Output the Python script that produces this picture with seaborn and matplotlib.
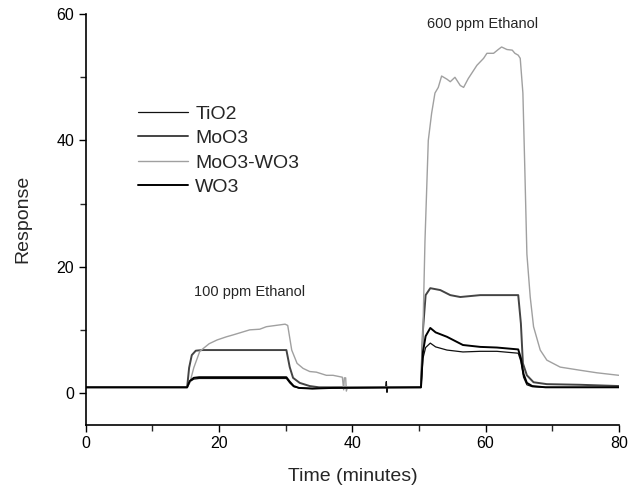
import numpy as np
import pandas as pd
import matplotlib
matplotlib.use("Agg")
import matplotlib.pyplot as plt
from matplotlib.ticker import MultipleLocator
import seaborn as sns

# --- data (time in minutes, response) ---
tio2_t = [0, 15.2, 15.6, 16.2, 17, 20, 25, 30.1, 30.6, 31.2, 32, 34, 37, 45.0, 45.1, 45.2, 45.3,
          50.3, 50.6, 51.0, 51.7, 52.5, 54.2, 56.6, 59.2, 61.7, 64.9, 65.3, 65.7, 66.2, 67, 69, 74, 80]
tio2_v = [0.9, 0.9, 1.8, 2.2, 2.3, 2.3, 2.3, 2.3, 1.6, 1.0, 0.8, 0.7, 0.8, 0.9, 1.8, 0.1, 0.9,
          0.9, 5.5, 7.2, 7.9, 7.3, 6.8, 6.5, 6.6, 6.6, 6.3, 5.0, 2.5, 1.3, 1.0, 0.9, 0.9, 0.9]

moo3_t = [0, 15.2, 15.5, 15.9, 16.5, 17.5, 30.1, 30.6, 31.1, 32.1, 33.6, 35, 50.3, 50.6, 51.0,
          51.7, 53.2, 54.7, 56.2, 59.2, 64.9, 65.3, 65.6, 66.2, 67.2, 69.2, 74.2, 80]
moo3_v = [0.9, 0.9, 4.0, 6.0, 6.7, 6.8, 6.8, 4.1, 2.4, 1.6, 1.1, 0.9, 0.9, 10, 15.5,
          16.6, 16.3, 15.5, 15.2, 15.5, 15.5, 11, 4.7, 2.8, 1.7, 1.4, 1.3, 1.1]

mix_t = [0, 15.2, 15.6, 16.2, 17.1, 18.5, 19.7, 21.1, 22.1, 24.6, 26.1, 27.1, 29.9, 30.3, 30.9,
         31.7, 32.6, 33.6, 34.6, 36.1, 37.1, 38.5, 38.7, 38.8, 39.0, 39.1, 39.3, 50.3, 50.6,
         50.9, 51.4, 51.9, 52.4, 52.9, 53.4, 54.2, 54.7, 55.4, 56.2, 56.7, 57.4, 58.7, 59.7,
         60.2, 61.2, 61.9, 62.4, 63.2, 64.0, 64.4, 64.9, 65.2, 65.6, 65.9, 66.2, 66.7, 67.2,
         68.2, 69.2, 71.2, 74.2, 76.7, 80]
mix_v = [0.9, 0.9, 1.6, 4.0, 6.6, 7.8, 8.4, 8.9, 9.2, 10.0, 10.1, 10.5, 10.9, 10.7, 6.8,
         4.7, 3.9, 3.4, 3.3, 2.8, 2.8, 2.5, 0.5, 2.4, 2.4, 0.3, 1.0, 0.9, 10,
         24, 40, 44.3, 47.5, 48.4, 50.2, 49.7, 49.3, 50.0, 48.7, 48.4, 49.8, 51.9, 53.0,
         53.8, 53.8, 54.4, 54.8, 54.4, 54.3, 53.8, 53.5, 53.0, 47.5, 35, 22, 15.2, 10.5,
         6.8, 5.2, 4.1, 3.6, 3.2, 2.8]

wo3_t = [0, 15.2, 15.6, 16.2, 17, 20, 25, 30.1, 30.6, 31.2, 32, 34, 37, 50.3, 50.6, 51.0,
         51.7, 52.5, 54.2, 56.6, 59.2, 61.7, 64.9, 65.3, 65.7, 66.2, 67, 69, 80]
wo3_v = [0.9, 0.9, 1.9, 2.4, 2.5, 2.5, 2.5, 2.5, 1.8, 1.1, 0.8, 0.7, 0.8, 0.9, 6.5, 9.0,
         10.3, 9.6, 8.9, 7.6, 7.3, 7.2, 6.9, 5.5, 3.0, 1.6, 1.1, 0.9, 0.9]

labels = ["TiO2", "MoO3", "MoO3-WO3", "WO3"]
colors = ["#111111", "#444444", "#a0a0a0", "#000000"]
widths = [0.9, 1.4, 1.0, 1.4]
series = [(tio2_t, tio2_v), (moo3_t, moo3_v), (mix_t, mix_v), (wo3_t, wo3_v)]

sns.set_style("ticks")
plt.rcParams["font.family"] = ["Liberation Sans", "DejaVu Sans"]

fig = plt.figure(figsize=(6.36, 4.88), dpi=100)
ax = fig.add_axes([0.135, 0.130, 0.838, 0.841])

for (t, v), lab, c, lw in zip(series, labels, colors, widths):
    df = pd.DataFrame({"time": t, "response": v})
    sns.lineplot(data=df, x="time", y="response", ax=ax, color=c, linewidth=lw,
                 label=lab, estimator=None, sort=False)

ax.set_xlim(0, 80)
ax.set_ylim(-5, 60)
ax.xaxis.set_major_locator(MultipleLocator(20))
ax.xaxis.set_minor_locator(MultipleLocator(10))
ax.yaxis.set_major_locator(MultipleLocator(20))
ax.yaxis.set_minor_locator(MultipleLocator(10))
ax.tick_params(which="major", direction="out", length=5, width=1, labelsize=11.5, colors="black")
ax.tick_params(which="minor", direction="out", length=4, width=1)
for s in ["left", "bottom"]:
    ax.spines[s].set_linewidth(1.2)
    ax.spines[s].set_color("black")
sns.despine(ax=ax)

ax.set_xlabel("Time (minutes)", fontsize=14, labelpad=12)
ax.set_ylabel("Response", fontsize=14, labelpad=18)

ax.text(24.6, 16, "100 ppm Ethanol", fontsize=10.5, ha="center", va="center")
ax.text(59.6, 58.4, "600 ppm Ethanol", fontsize=10.5, ha="center", va="center")

ax.legend(loc="upper left", bbox_to_anchor=(0.0975, 0.778), frameon=False, fontsize=14,
          handlelength=2.6, handletextpad=0.35, labelspacing=0.35, borderpad=0,
          borderaxespad=0)

fig.savefig("out.png", dpi=100)
